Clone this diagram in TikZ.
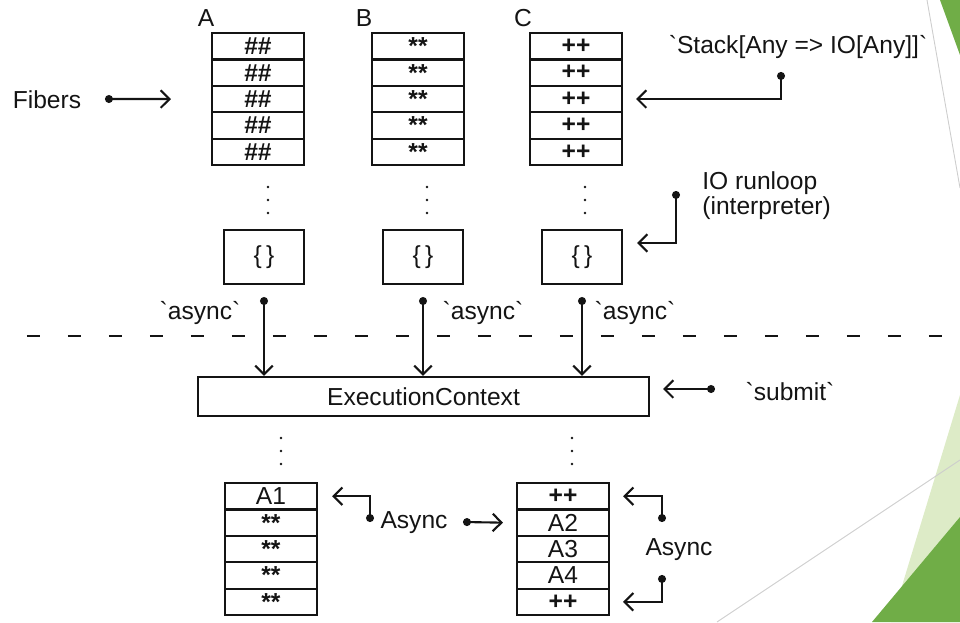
\documentclass[tikz,border=0pt]{standalone}
\usepackage{fontspec}
\setmainfont{Liberation Sans}
\usetikzlibrary{positioning,arrows.meta,calc}
\definecolor{ink}{RGB}{20,20,20}
\definecolor{leaf}{RGB}{112,173,71}
\definecolor{leafwash}{RGB}{221,235,199}
\definecolor{rule}{RGB}{205,205,205}
\newcommand{\bt}{\textasciigrave}
\newcommand{\stars}{\raisebox{-0.25em}{\bfseries **}}

\begin{document}
\begin{tikzpicture}[x=0.02cm, y=-0.02cm,
		every node/.style={font=\fontsize{14}{16}\selectfont, text=ink},
		cell/.style={draw=ink, line width=1.2pt, anchor=north, minimum width=1.84cm,
			minimum height=0.528cm, inner sep=0pt},
		runbox/.style={draw=ink, line width=1.2pt, minimum width=1.6cm, minimum height=1.08cm},
		dotarr/.style={{Circle[length=4.5pt]}-{Straight Barb[length=5pt,width=10pt]},
			line width=1.2pt, ink}]
		\useasboundingbox (0,0) rectangle (960,622);
		\fill[leafwash] (960,395) -- (960,622) -- (891,622) -- cycle;
		\fill[leaf] (960,517) -- (960,622) -- (872,622) -- cycle;
		\fill[leaf] (940,0) -- (960,0) -- (960,55) -- cycle;
		\draw[rule, line width=0.5pt] (927,0) -- (960,188);
		\draw[rule, line width=0.5pt] (717,622) -- (960,460);
		\foreach \s/\x/\m in {A/258/{\bfseries\#\#}, B/418/{\stars}, C/576/{\bfseries++}}
			\foreach \r in {1,...,5}
				\node[cell] (\s\r) at (\x,{32+26.4*(\r-1)}) {\m};
		\node (labA) at (206,18) {A};
		\node (labB) at (364,18) {B};
		\node (labC) at (523,18) {C};
		\foreach \x in {268,427,585} \foreach \y in {187,200,213} \fill[ink] (\x,\y) circle (0.8pt);
		\foreach \s/\x in {A/264, B/423, C/582}
			\node[runbox] (run\s) at (\x,257) {\{\,\}};
		\node[draw=ink, line width=1.2pt, minimum width=9.02cm, minimum height=0.78cm] (ec)
			at (423.5,396.5) {ExecutionContext\hspace{1.7cm}};
		\foreach \s in {A,B,C}
			\draw[dotarr] ($(run\s.south)+(0,12)$) -- (run\s.south |- ec.north);
		\node (asyncA) at (200,313) {\bt async\bt};
		\node (asyncB) at (483,313) {\bt async\bt};
		\node (asyncC) at (635,313) {\bt async\bt};
		\draw[ink, line width=1.2pt, dash pattern=on 0.26cm off 0.56cm, dash phase=0.28cm]
			(0,336) -- (960,336);
		\node (fib) at (47,100) {Fibers};
		\coordinate (fibdot) at (105,99);
		\draw[dotarr] (fibdot) -- ($(A3.west)+(-40,0)$);
		\node (stk) at (798,47) {\bt Stack[Any => IO[Any]]\bt};
		\coordinate (stkdot) at (781,72);
		\draw[dotarr] (stkdot) |- ($(C3.east)+(13,0)$);
		\node[align=left, anchor=north west, inner sep=0pt, font=\fontsize{14}{14.5}\selectfont]
			(loop) at (702,171) {IO runloop\\(interpreter)};
		\coordinate (loopdot) at (676,191);
		\draw[dotarr] (loopdot) |- ($(runC.east)+(14,-14)$);
		\node (submit) at (790,392) {\bt submit\bt};
		\coordinate (subdot) at (715,389);
		\draw[dotarr] (subdot) -- ($(ec.east)+(13,-7.5)$);
		\foreach \x in {281,572} \foreach \y in {438,451,464} \fill[ink] (\x,\y) circle (0.8pt);
		\foreach \m [count=\r] in {A1,\stars,\stars,\stars,\stars}
			\node[cell] (L\r) at (271,{482+26.4*(\r-1)}) {\m};
		\foreach \m [count=\r] in {{\bfseries++},A2,A3,A4,{\bfseries++}}
			\node[cell] (R\r) at (563,{482+26.4*(\r-1)}) {\m};
		\node (asyncL) at (414,523) {Async};
		\coordinate (ldot) at (370,522);
		\draw[dotarr] (ldot) |- ($(L1.east)+(14,0)$);
		\coordinate (mdot) at (463,522);
		\draw[dotarr] (mdot) -- ($(R2.west)+(-13,0)$);
		\node (asyncR) at (679,550) {Async};
		\coordinate (updot) at (662,522);
		\draw[dotarr] (updot) |- ($(R1.east)+(13,0)$);
		\coordinate (downdot) at (662,575);
		\draw[dotarr] (downdot) |- ($(R5.east)+(13,0)$);
	\end{tikzpicture}
\end{document}
